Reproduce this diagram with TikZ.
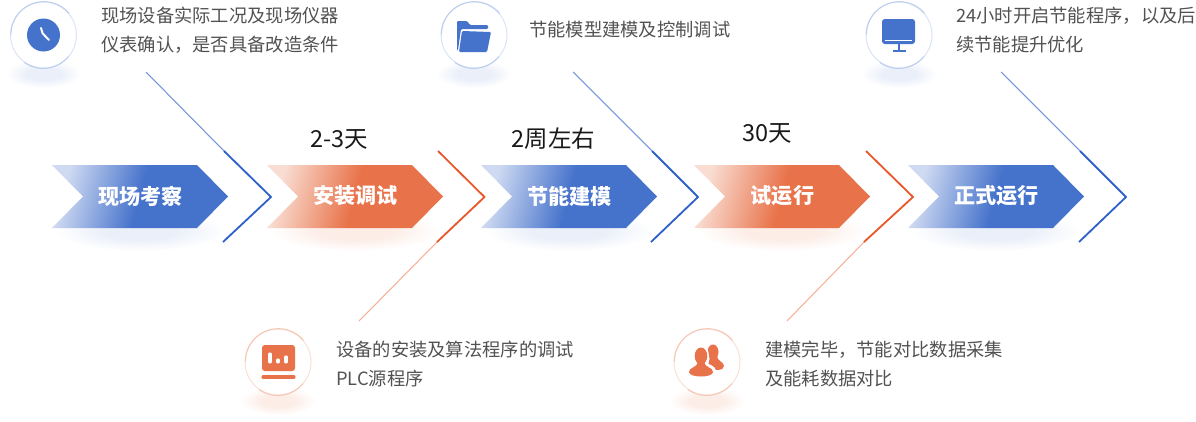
\documentclass[tikz,border=0pt]{standalone}
\usepackage{fontspec}
\setmainfont{Noto Sans CJK SC}
\definecolor{arrowblue}{HTML}{4572CB}
\definecolor{arrowpaleblue}{HTML}{CFDAF2}
\definecolor{lineblue}{HTML}{2F61C9}
\definecolor{thinblue}{HTML}{7395DD}
\definecolor{ringblue}{HTML}{BCCDEE}
\definecolor{shadowblue}{HTML}{EAEFF9}
\definecolor{arroworange}{HTML}{E87249}
\definecolor{arrowpaleorange}{HTML}{F9DDD2}
\definecolor{lineorange}{HTML}{E8582B}
\definecolor{thinorange}{HTML}{F5B095}
\definecolor{ringorange}{HTML}{F6C6B4}
\definecolor{shadoworange}{HTML}{FCEDE7}
\pgfdeclarehorizontalshading{shapeblue}{100bp}{color(0bp)=(arrowpaleblue); color(25bp)=(arrowpaleblue); color(50bp)=(arrowblue); color(100bp)=(arrowblue)}
\pgfdeclarehorizontalshading{shapeorange}{100bp}{color(0bp)=(arrowpaleorange); color(25bp)=(arrowpaleorange); color(50bp)=(arroworange); color(100bp)=(arroworange)}
\pgfdeclareradialshading{glowblue}{\pgfpoint{0bp}{0bp}}{color(0bp)=(shadowblue); color(11bp)=(shadowblue); color(25bp)=(white); color(50bp)=(white)}
\pgfdeclareradialshading{gloworange}{\pgfpoint{0bp}{0bp}}{color(0bp)=(shadoworange); color(11bp)=(shadoworange); color(25bp)=(white); color(50bp)=(white)}
\tikzset{
	steplabel/.style={text=white, font=\fontsize{15}{18}\selectfont\bfseries},
	timelabel/.style={text=black!90, font=\fontsize{16.7}{20}\selectfont},
	desclabel/.style={anchor=west, align=left, inner sep=0pt, text=black!68, font=\fontsize{13}{20.6}\selectfont},
	ring/.style={circle, draw=#1!55, fill=white, line width=.7pt, minimum size=1.65cm, inner sep=0pt}
}
\begin{document}
\begin{tikzpicture}[x=.025cm, y=-.025cm, line join=round]
	\useasboundingbox (0,0) rectangle (1196,421);
	\foreach \n/\x/\c/\txt in {1/52/blue/现场考察,2/267/orange/安装调试,3/481/blue/节能建模,4/694/orange/试运行,5/908/blue/正式运行}{
		\shade[shading=glow\c] (\x+88,231) ellipse (84 and 20);
		\shade[shading=shape\c, shading angle=-15] (\x,165)--(\x+145,165)--(\x+176,196.5)--(\x+145,228)--(\x,228)--(\x+31,196.5)--cycle;
		\node[steplabel] (step\n) at (\x+88.5,196) {\txt};
	}
	\foreach \n/\x/\y/\c in {1/43.5/35/blue,2/278/362/orange,3/474/35/blue,4/899/35/blue,5/707/362/orange}{
		\shade[shading=glow\c] (\x,\y+39) ellipse (38 and 14);
		\node[ring=ring\c] (icon\n) at (\x,\y) {};
		\draw[ring\c, line width=.7pt] (icon\n.40) arc[start angle=-40, end angle=-180, radius=33];
		\draw[ring\c, line width=.7pt] (icon\n.235) arc[start angle=-235, end angle=-320, radius=33];
	}
	\foreach \n/\a/\b/\d in {1/224/271/223,2/438/484.5/437,3/652/698/651,4/866/913/864,5/1080/1126/1079}{
		\coordinate (up\n) at (\a,151);
		\coordinate (tip\n) at (\b,197);
		\coordinate (low\n) at (\d,242);
	}
	\coordinate (end1) at (146,72);
	\coordinate (end2) at (359,321);
	\coordinate (end3) at (573,72);
	\coordinate (end4) at (787,321);
	\coordinate (end5) at (1001,72);
	\foreach \n in {1,3,5}{
		\draw[thinblue, line width=.75pt] (end\n)--(up\n);
		\draw[lineblue, line width=1.3pt] (up\n)--(tip\n)--(low\n);
	}
	\foreach \n in {2,4}{
		\draw[thinorange, line width=.75pt] (end\n)--(low\n);
		\draw[lineorange, line width=1.3pt] (up\n)--(tip\n)--(low\n);
	}
	\node[timelabel] (time2) at (339,139) {2-3天};
	\node[timelabel] (time3) at (553.5,139) {2周左右};
	\node[timelabel] (time4) at (767.5,133) {30天};
	\node[desclabel] (desc1) at (101,30) {现场设备实际工况及现场仪器\\仪表确认，是否具备改造条件};
	\node[desclabel] (desc3) at (529,30) {节能模型建模及控制调试};
	\node[desclabel] (desc5) at (956,30) {24小时开启节能程序，以及后\\续节能提升优化};
	\node[desclabel] (desc2) at (336,364) {设备的安装及算法程序的调试\\PLC源程序};
	\node[desclabel] (desc4) at (765,364) {建模完毕，节能对比数据采集\\及能耗数据对比};
	\fill[arrowblue] (icon1) circle (16.5);
	\draw[white, line width=1.4pt, line cap=round] (41,28)--(42.7,33.5)--(49,40);
	\fill[arrowblue, rounded corners=.8pt] (457,50)--(457,21)--(467,21)--(470,25)--(488,25)--(488,29)--(461,29)--(458,50)--cycle;
	\fill[arrowblue, rounded corners=.8pt] (462,31)--(491,32)--(487,52)--(459,52)--cycle;
	\fill[arrowblue, rounded corners=2pt] (882,19) rectangle (915,44);
	\draw[white, line width=.7pt] (885,40)--(912,40);
	\draw[arrowblue, line width=1.3pt] (899,44)--(899,51) (893,51)--(906,51);
	\fill[arroworange, rounded corners=2pt] (262,345) rectangle (295,371);
	\draw[arroworange, line width=2.2pt, line cap=round] (263,377)--(294,377);
	\draw[white, line width=2.2pt, line cap=round] (270,354)--(270,362) (278,360)--(278,362) (286,357)--(286,362);
	\fill[arroworange] (713,352) ellipse (5.5 and 7.5);
	\fill[arroworange] (710,356) -- (717,356) .. controls (717,361) and (724,362) .. (724,366) .. controls (724,371) and (714,371) .. (708,367) -- cycle;
	\fill[white] (701,356) ellipse (8 and 10.5);
	\fill[white] (701,371) ellipse (15 and 8);
	\fill[arroworange] (701,356) ellipse (6.3 and 8.5);
	\fill[arroworange] (689,372) .. controls (689,367) and (697,368) .. (698,362) -- (704,362) .. controls (705,368) and (713,367) .. (713,372) .. controls (713,378) and (689,378) .. (689,372) -- cycle;
\end{tikzpicture}
\end{document}
